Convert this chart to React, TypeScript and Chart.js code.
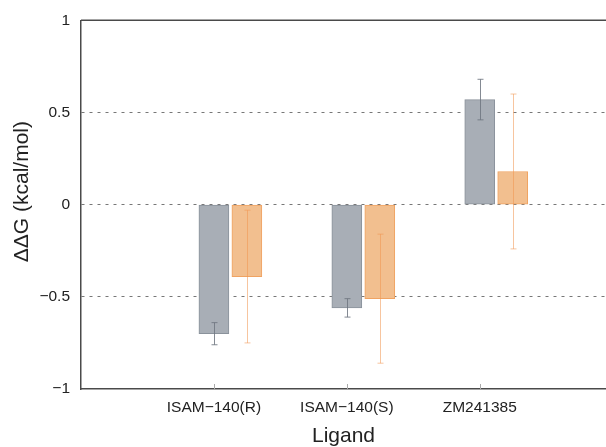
import React, { useEffect, useRef } from "react";
import { Chart, registerables } from "chart.js";
Chart.register(...registerables);

const categories = ["ISAM−140(R)", "ISAM−140(S)", "ZM241385"];
const seriesA = [-0.7, -0.56, 0.57];
const errorsA = [0.06, 0.05, 0.11];
const seriesB = [-0.39, -0.51, 0.18];
const errorsB = [0.36, 0.35, 0.42];
const yTicks = [-1, -0.5, 0, 0.5, 1];
const yTickLabels = ["−1", "−0.5", "0", "0.5", "1"];
const xAxisTitle = "Ligand";
const yAxisTitle = "ΔΔG (kcal/mol)";

const W = 606;
const H = 447;
const OFFSET_B = 0.248;
const FONT = "'Liberation Sans', Arial, Helvetica, sans-serif";
const AXIS_COLOR = "#4a4a4a";

export default function App() {
  const ref = useRef<HTMLCanvasElement | null>(null);
  useEffect(() => {
    if (!ref.current) return;
    const errorPlugin = {
      id: "errbars",
      afterDatasetsDraw(chart: any) {
        const { ctx, scales, chartArea } = chart;
        const xs = scales.x;
        const ys = scales.y;
        ctx.save();
        // top border
        ctx.strokeStyle = AXIS_COLOR;
        ctx.lineWidth = 1.5;
        ctx.beginPath();
        ctx.moveTo(chartArea.left, chartArea.top);
        ctx.lineTo(chartArea.right, chartArea.top);
        ctx.stroke();
        // inward x ticks
        ctx.strokeStyle = "#aaaaaa";
        ctx.lineWidth = 1;
        categories.forEach((_, i) => {
          const x = Math.round(xs.getPixelForValue(i + 1)) + 0.5;
          ctx.beginPath();
          ctx.moveTo(x, chartArea.bottom);
          ctx.lineTo(x, chartArea.bottom - 5);
          ctx.stroke();
        });
        const sets = [
          { vals: seriesA, errs: errorsA, off: 0, color: "rgba(110,118,128,0.85)" },
          { vals: seriesB, errs: errorsB, off: OFFSET_B, color: "rgba(240,150,80,0.55)" },
        ];
        sets.forEach((s) => {
          ctx.strokeStyle = s.color;
          ctx.lineWidth = 1;
          s.vals.forEach((v, i) => {
            const x = Math.round(xs.getPixelForValue(i + 1 + s.off)) + 0.5;
            const y1 = ys.getPixelForValue(v + s.errs[i]);
            const y2 = ys.getPixelForValue(v - s.errs[i]);
            ctx.beginPath();
            ctx.moveTo(x, y1);
            ctx.lineTo(x, y2);
            ctx.moveTo(x - 3, y1);
            ctx.lineTo(x + 3, y1);
            ctx.moveTo(x - 3, y2);
            ctx.lineTo(x + 3, y2);
            ctx.stroke();
          });
        });
        // y axis title (placed slightly above the axis centre, as in the reference)
        ctx.fillStyle = "#222";
        ctx.font = `21px ${FONT}`;
        ctx.textAlign = "center";
        ctx.textBaseline = "middle";
        ctx.translate(22, (chartArea.top + chartArea.bottom) / 2 - 13);
        ctx.rotate(-Math.PI / 2);
        ctx.fillText(yAxisTitle, 0, 0);
        ctx.restore();
      },
    };
    const chart = new Chart(ref.current, {
      type: "bar",
      data: {
        datasets: [
          {
            label: "A",
            data: seriesA.map((v, i) => ({ x: i + 1, y: v })),
            backgroundColor: "#a8aeb6",
            borderColor: "#8a929b",
            borderWidth: 1,
            borderSkipped: false,
            barThickness: 30,
            grouped: false,
          },
          {
            label: "B",
            data: seriesB.map((v, i) => ({ x: i + 1 + OFFSET_B, y: v })),
            backgroundColor: "#f2bf8f",
            borderColor: "#f0a362",
            borderWidth: 1,
            borderSkipped: false,
            barThickness: 30,
            grouped: false,
          },
        ],
      },
      options: {
        animation: false,
        responsive: false,
        layout: { padding: { top: 19, right: 0, left: 0, bottom: 0 } },
        plugins: { legend: { display: false }, tooltip: { enabled: false } },
        scales: {
          x: {
            type: "linear",
            offset: false,
            min: 0,
            max: 3.95,
            afterBuildTicks: (s: any) => {
              s.ticks = categories.map((_, i) => ({ value: i + 1 }));
            },
            afterFit: (s: any) => {
              s.height = H - 389;
            },
            ticks: {
              callback: (v: any) => categories[Math.round(Number(v)) - 1] ?? "",
              font: { family: FONT, size: 15.5 },
              color: "#222",
              padding: 9,
              maxRotation: 0,
              autoSkip: false,
            },
            grid: { display: false, drawTicks: false },
            border: { display: true, color: AXIS_COLOR, width: 1.5 },
            title: {
              display: true,
              text: xAxisTitle,
              font: { family: FONT, size: 21, lineHeight: 1 },
              color: "#222",
              padding: { top: 0, bottom: 0 },
            },
          },
          y: {
            type: "linear",
            min: -1,
            max: 1,
            afterBuildTicks: (s: any) => {
              s.ticks = yTicks.map((v) => ({ value: v }));
            },
            afterFit: (s: any) => {
              s.width = 81;
            },
            ticks: {
              callback: (v: any) => yTickLabels[yTicks.indexOf(Number(v))] ?? "",
              font: { family: FONT, size: 15.5 },
              color: "#222",
              padding: 11,
            },
            grid: {
              drawTicks: false,
              color: (c: any) =>
                c.tick && Math.abs(c.tick.value) === 1 ? "rgba(0,0,0,0)" : "#777",
              lineWidth: 1,
            },
            border: { display: true, color: AXIS_COLOR, width: 1.5, dash: [3, 5] },
            title: { display: false, text: yAxisTitle },
          },
        },
      },
      plugins: [errorPlugin],
    } as any);
    return () => chart.destroy();
  }, []);
  return (
    <div style={{ position: "fixed", left: 0, top: 0, width: W, height: H, overflow: "hidden", background: "#fff" }}>
      <canvas ref={ref} width={W} height={H} style={{ display: "block" }} />
    </div>
  );
}
